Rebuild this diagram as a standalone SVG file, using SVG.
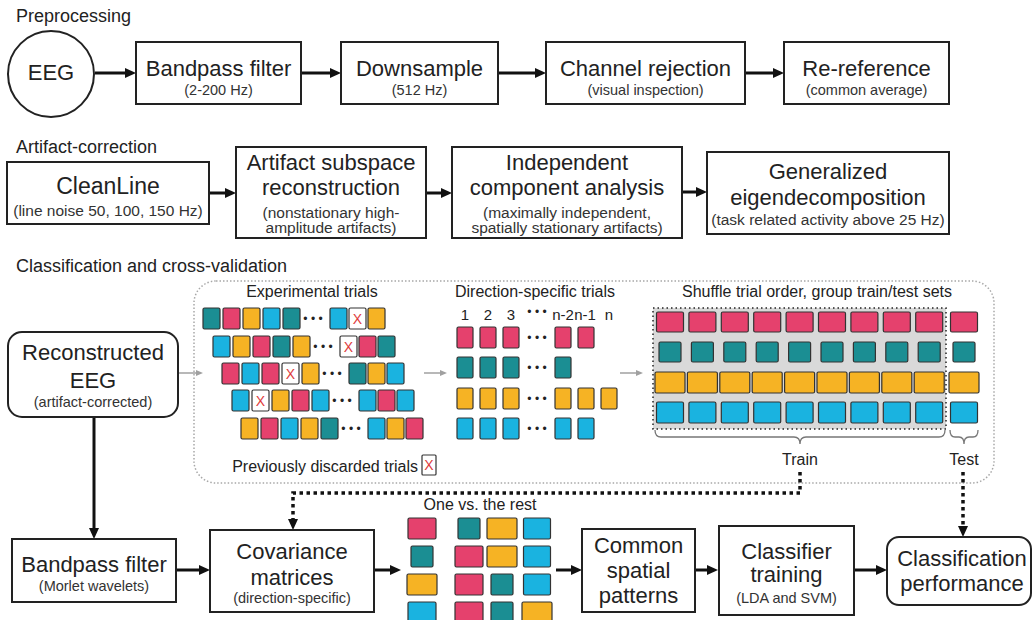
<svg xmlns="http://www.w3.org/2000/svg" width="1033" height="620" viewBox="0 0 1033 620">
<defs>
<style>
.box{fill:#fff;stroke:#222;stroke-width:2}
.t{font-family:"Liberation Sans",Arial,Helvetica,sans-serif;fill:#222;text-anchor:middle}
.title{font-size:22px}
.sub{font-size:14.5px;fill:#333}
.sub2{font-size:15.5px;fill:#333}
.lbl{font-size:16px}
.num{font-size:15px}
.hdr{font-size:18px;text-anchor:start}
.dots{font-size:12px}
.sq{stroke:#333;stroke-width:1.2}
.pk{fill:#e5416d}.tl{fill:#1b8e93}.or{fill:#f6b324}.cy{fill:#1ab3e0}.xs{fill:#fff}
.xt{font-family:"Liberation Sans",Arial,sans-serif;fill:#e03c3c;font-size:14px;text-anchor:middle}
.conn{stroke:#111;stroke-width:3;fill:none}
.dotc{stroke:#111;stroke-width:3.5;stroke-dasharray:3.5 3.5;fill:none}
.gray{stroke:#a0a0a0;stroke-width:1.5;fill:none}
.brace{stroke:#777;stroke-width:1.3;fill:none}
</style>
<marker id="ah" markerUnits="userSpaceOnUse" markerWidth="12" markerHeight="10" refX="5" refY="5" orient="auto"><path d="M0,0 L11,5 L0,10 z" fill="#111"/></marker>
<marker id="ahg" markerUnits="userSpaceOnUse" markerWidth="8" markerHeight="6" refX="2" refY="3" orient="auto"><path d="M0,0 L7,3 L0,6 z" fill="#a0a0a0"/></marker>
</defs>
<rect width="1033" height="620" fill="#fff"/>

<!-- section headers -->
<text class="t hdr" x="16" y="22">Preprocessing</text>
<text class="t hdr" x="16" y="153">Artifact-correction</text>
<text class="t hdr" x="16" y="272">Classification and cross-validation</text>

<!-- dotted panel -->
<rect x="194" y="281" width="800" height="202" rx="22" fill="none" stroke="#a8a8a8" stroke-width="1.5" stroke-dasharray="1.5 2"/>

<!-- connectors -->
<g id="connectors">
<path class="conn" d="M95,73 H130" marker-end="url(#ah)"/>
<path class="conn" d="M301,73 H335" marker-end="url(#ah)"/>
<path class="conn" d="M498,73 H540" marker-end="url(#ah)"/>
<path class="conn" d="M745,73 H778" marker-end="url(#ah)"/>
<path class="conn" d="M209,193 H230" marker-end="url(#ah)"/>
<path class="conn" d="M426,193 H446" marker-end="url(#ah)"/>
<path class="conn" d="M682,192 H701" marker-end="url(#ah)"/>
<path class="conn" d="M94,417 V533" marker-end="url(#ah)"/>
<path class="conn" d="M176,570 H204" marker-end="url(#ah)"/>
<path class="conn" d="M374,570 H395" marker-end="url(#ah)"/>
<path class="conn" d="M556,570 H576" marker-end="url(#ah)"/>
<path class="conn" d="M695,570 H712" marker-end="url(#ah)"/>
<path class="conn" d="M854,570 H881" marker-end="url(#ah)"/>
<path class="dotc" d="M800,472 V493 H293 V524" marker-end="url(#ah)"/>
<path class="dotc" d="M963,472 V531" marker-end="url(#ah)"/>
<path class="gray" d="M178,373 H198" marker-end="url(#ahg)"/>
<path class="gray" d="M424,373 H442" marker-end="url(#ahg)"/>
<path class="gray" d="M620,373 H638" marker-end="url(#ahg)"/>
</g>

<!-- Preprocessing nodes -->
<g id="eeg">
<circle cx="51" cy="74" r="43" fill="#fff" stroke="#222" stroke-width="2"/>
<text class="t title" x="51" y="80">EEG</text>
</g>
<g id="bandpass">
<rect class="box" x="136" y="42" width="165" height="62"/>
<text class="t title" x="218.5" y="76">Bandpass filter</text>
<text class="t sub" x="218.5" y="95">(2-200 Hz)</text>
</g>
<g id="downsample">
<rect class="box" x="341" y="42" width="157" height="62"/>
<text class="t title" x="419.5" y="76">Downsample</text>
<text class="t sub" x="419.5" y="95">(512 Hz)</text>
</g>
<g id="channel">
<rect class="box" x="546" y="42" width="199" height="62"/>
<text class="t title" x="645.5" y="76">Channel rejection</text>
<text class="t sub" x="645.5" y="95">(visual inspection)</text>
</g>
<g id="reref">
<rect class="box" x="784" y="42" width="165" height="62"/>
<text class="t title" x="866.5" y="76">Re-reference</text>
<text class="t sub" x="866.5" y="95">(common average)</text>
</g>

<!-- Artifact-correction nodes -->
<g id="cleanline">
<rect class="box" x="7" y="162" width="202" height="62"/>
<text class="t title" x="108" y="194" style="font-size:23px">CleanLine</text>
<text class="t sub2" x="108" y="216">(line noise 50, 100, 150 Hz)</text>
</g>
<g id="asr">
<rect class="box" x="236" y="147" width="190" height="91"/>
<text class="t title" x="331" y="170">Artifact subspace</text>
<text class="t title" x="331" y="195">reconstruction</text>
<text class="t sub2" x="331" y="218">(nonstationary high-</text>
<text class="t sub2" x="331" y="233">amplitude artifacts)</text>
</g>
<g id="ica">
<rect class="box" x="452" y="147" width="230" height="91"/>
<text class="t title" x="567" y="170">Independent</text>
<text class="t title" x="567" y="195">component analysis</text>
<text class="t sub2" x="567" y="218">(maximally independent,</text>
<text class="t sub2" x="567" y="233">spatially stationary artifacts)</text>
</g>
<g id="ged">
<rect class="box" x="707" y="152" width="242" height="82"/>
<text class="t title" x="828" y="179">Generalized</text>
<text class="t title" x="828" y="205">eigendecomposition</text>
<text class="t sub2" x="828" y="225">(task related activity above 25 Hz)</text>
</g>

<!-- Reconstructed EEG -->
<g id="reconstructed">
<rect class="box" x="8" y="332" width="170" height="85" rx="14"/>
<text class="t title" x="93" y="360">Reconstructed</text>
<text class="t title" x="93" y="388">EEG</text>
<text class="t sub" x="93" y="407">(artifact-corrected)</text>
</g>

<!-- Experimental trials -->
<g id="experimental-trials">
<text class="t lbl" x="312" y="297">Experimental trials</text>
<rect class="sq tl" x="203" y="308" width="17" height="21" rx="1.5"/>
<rect class="sq pk" x="223" y="308" width="17" height="21" rx="1.5"/>
<rect class="sq or" x="243" y="308" width="17" height="21" rx="1.5"/>
<rect class="sq cy" x="263" y="308" width="17" height="21" rx="1.5"/>
<rect class="sq tl" x="283" y="308" width="17" height="21" rx="1.5"/>
<text class="t dots" x="313" y="323">• • •</text>
<rect class="sq cy" x="330" y="308" width="17" height="21" rx="1.5"/>
<rect class="sq xs" x="349" y="308" width="17" height="21" rx="1.5"/>
<text class="xt" x="357.5" y="324">X</text>
<rect class="sq or" x="368" y="308" width="17" height="21" rx="1.5"/>

<rect class="sq cy" x="213" y="336" width="17" height="21" rx="1.5"/>
<rect class="sq or" x="233" y="336" width="17" height="21" rx="1.5"/>
<rect class="sq pk" x="253" y="336" width="17" height="21" rx="1.5"/>
<rect class="sq tl" x="273" y="336" width="17" height="21" rx="1.5"/>
<rect class="sq or" x="293" y="336" width="17" height="21" rx="1.5"/>
<text class="t dots" x="323" y="351">• • •</text>
<rect class="sq xs" x="340" y="336" width="17" height="21" rx="1.5"/>
<text class="xt" x="348.5" y="352">X</text>
<rect class="sq pk" x="359" y="336" width="17" height="21" rx="1.5"/>
<rect class="sq tl" x="378" y="336" width="17" height="21" rx="1.5"/>

<rect class="sq pk" x="222" y="363" width="17" height="21" rx="1.5"/>
<rect class="sq cy" x="242" y="363" width="17" height="21" rx="1.5"/>
<rect class="sq pk" x="262" y="363" width="17" height="21" rx="1.5"/>
<rect class="sq xs" x="282" y="363" width="17" height="21" rx="1.5"/>
<text class="xt" x="290.5" y="379">X</text>
<rect class="sq or" x="302" y="363" width="17" height="21" rx="1.5"/>
<text class="t dots" x="332" y="378">• • •</text>
<rect class="sq tl" x="349" y="363" width="17" height="21" rx="1.5"/>
<rect class="sq or" x="368" y="363" width="17" height="21" rx="1.5"/>
<rect class="sq cy" x="387" y="363" width="17" height="21" rx="1.5"/>

<rect class="sq cy" x="232" y="390" width="17" height="21" rx="1.5"/>
<rect class="sq xs" x="252" y="390" width="17" height="21" rx="1.5"/>
<text class="xt" x="260.5" y="406">X</text>
<rect class="sq or" x="272" y="390" width="17" height="21" rx="1.5"/>
<rect class="sq pk" x="292" y="390" width="17" height="21" rx="1.5"/>
<rect class="sq cy" x="312" y="390" width="17" height="21" rx="1.5"/>
<text class="t dots" x="342" y="405">• • •</text>
<rect class="sq cy" x="359" y="390" width="17" height="21" rx="1.5"/>
<rect class="sq pk" x="378" y="390" width="17" height="21" rx="1.5"/>
<rect class="sq cy" x="397" y="390" width="17" height="21" rx="1.5"/>

<rect class="sq or" x="241" y="418" width="17" height="21" rx="1.5"/>
<rect class="sq pk" x="261" y="418" width="17" height="21" rx="1.5"/>
<rect class="sq cy" x="281" y="418" width="17" height="21" rx="1.5"/>
<rect class="sq or" x="301" y="418" width="17" height="21" rx="1.5"/>
<rect class="sq tl" x="321" y="418" width="17" height="21" rx="1.5"/>
<text class="t dots" x="351" y="433">• • •</text>
<rect class="sq cy" x="368" y="418" width="17" height="21" rx="1.5"/>
<rect class="sq or" x="387" y="418" width="17" height="21" rx="1.5"/>
<rect class="sq pk" x="406" y="418" width="17" height="21" rx="1.5"/>

<text class="t lbl" x="418" y="472" style="text-anchor:end">Previously discarded trials</text>
<rect class="sq xs" x="422" y="455" width="14" height="20" rx="1"/>
<text class="xt" x="429" y="470">X</text>
</g>

<!-- Direction-specific trials -->
<g id="direction-trials">
<text class="t lbl" x="535" y="297">Direction-specific trials</text>
<text class="t num" x="465" y="320">1</text>
<text class="t num" x="488" y="320">2</text>
<text class="t num" x="511" y="320">3</text>
<text class="t dots" x="537" y="316">• • •</text>
<text class="t num" x="563" y="320">n-2</text>
<text class="t num" x="585" y="320">n-1</text>
<text class="t num" x="609" y="320">n</text>

<rect class="sq pk" x="457" y="327" width="16" height="21" rx="1.5"/>
<rect class="sq pk" x="480" y="327" width="16" height="21" rx="1.5"/>
<rect class="sq pk" x="503" y="327" width="16" height="21" rx="1.5"/>
<text class="t dots" x="537" y="342">• • •</text>
<rect class="sq pk" x="555" y="327" width="16" height="21" rx="1.5"/>
<rect class="sq pk" x="578" y="327" width="16" height="21" rx="1.5"/>

<rect class="sq tl" x="457" y="357" width="16" height="21" rx="1.5"/>
<rect class="sq tl" x="480" y="357" width="16" height="21" rx="1.5"/>
<rect class="sq tl" x="503" y="357" width="16" height="21" rx="1.5"/>
<text class="t dots" x="537" y="372">• • •</text>
<rect class="sq tl" x="555" y="357" width="16" height="21" rx="1.5"/>

<rect class="sq or" x="457" y="388" width="16" height="21" rx="1.5"/>
<rect class="sq or" x="480" y="388" width="16" height="21" rx="1.5"/>
<rect class="sq or" x="503" y="388" width="16" height="21" rx="1.5"/>
<text class="t dots" x="537" y="403">• • •</text>
<rect class="sq or" x="555" y="388" width="16" height="21" rx="1.5"/>
<rect class="sq or" x="578" y="388" width="16" height="21" rx="1.5"/>
<rect class="sq or" x="601" y="388" width="16" height="21" rx="1.5"/>

<rect class="sq cy" x="457" y="418" width="16" height="21" rx="1.5"/>
<rect class="sq cy" x="480" y="418" width="16" height="21" rx="1.5"/>
<rect class="sq cy" x="503" y="418" width="16" height="21" rx="1.5"/>
<text class="t dots" x="537" y="433">• • •</text>
<rect class="sq cy" x="555" y="418" width="16" height="21" rx="1.5"/>
<rect class="sq cy" x="578" y="418" width="16" height="21" rx="1.5"/>
</g>

<!-- Shuffle / train-test -->
<g id="shuffle">
<text class="t lbl" x="817" y="297">Shuffle trial order, group train/test sets</text>
<rect x="653" y="308" width="293" height="121" fill="#d9d9d9" stroke="#222" stroke-width="1.5" stroke-dasharray="1.5 3"/>
<rect class="sq pk" x="656.5" y="312" width="27" height="20" rx="1.5"/>
<rect class="sq pk" x="688.9" y="312" width="27" height="20" rx="1.5"/>
<rect class="sq pk" x="721.3" y="312" width="27" height="20" rx="1.5"/>
<rect class="sq pk" x="753.7" y="312" width="27" height="20" rx="1.5"/>
<rect class="sq pk" x="786.1" y="312" width="27" height="20" rx="1.5"/>
<rect class="sq pk" x="818.5" y="312" width="27" height="20" rx="1.5"/>
<rect class="sq pk" x="850.9" y="312" width="27" height="20" rx="1.5"/>
<rect class="sq pk" x="883.3" y="312" width="27" height="20" rx="1.5"/>
<rect class="sq pk" x="915.7" y="312" width="27" height="20" rx="1.5"/>
<rect class="sq pk" x="950.5" y="312" width="27" height="20" rx="1.5"/>

<rect class="sq tl" x="659" y="342" width="22" height="20" rx="1.5"/>
<rect class="sq tl" x="691.4" y="342" width="22" height="20" rx="1.5"/>
<rect class="sq tl" x="723.8" y="342" width="22" height="20" rx="1.5"/>
<rect class="sq tl" x="756.2" y="342" width="22" height="20" rx="1.5"/>
<rect class="sq tl" x="788.6" y="342" width="22" height="20" rx="1.5"/>
<rect class="sq tl" x="821" y="342" width="22" height="20" rx="1.5"/>
<rect class="sq tl" x="853.4" y="342" width="22" height="20" rx="1.5"/>
<rect class="sq tl" x="885.8" y="342" width="22" height="20" rx="1.5"/>
<rect class="sq tl" x="918.2" y="342" width="22" height="20" rx="1.5"/>
<rect class="sq tl" x="953" y="342" width="22" height="20" rx="1.5"/>

<rect class="sq or" x="655" y="372" width="30" height="21" rx="1.5"/>
<rect class="sq or" x="687.4" y="372" width="30" height="21" rx="1.5"/>
<rect class="sq or" x="719.8" y="372" width="30" height="21" rx="1.5"/>
<rect class="sq or" x="752.2" y="372" width="30" height="21" rx="1.5"/>
<rect class="sq or" x="784.6" y="372" width="30" height="21" rx="1.5"/>
<rect class="sq or" x="817" y="372" width="30" height="21" rx="1.5"/>
<rect class="sq or" x="849.4" y="372" width="30" height="21" rx="1.5"/>
<rect class="sq or" x="881.8" y="372" width="30" height="21" rx="1.5"/>
<rect class="sq or" x="914.2" y="372" width="30" height="21" rx="1.5"/>
<rect class="sq or" x="949" y="372" width="30" height="21" rx="1.5"/>

<rect class="sq cy" x="656.5" y="402" width="27" height="21" rx="1.5"/>
<rect class="sq cy" x="688.9" y="402" width="27" height="21" rx="1.5"/>
<rect class="sq cy" x="721.3" y="402" width="27" height="21" rx="1.5"/>
<rect class="sq cy" x="753.7" y="402" width="27" height="21" rx="1.5"/>
<rect class="sq cy" x="786.1" y="402" width="27" height="21" rx="1.5"/>
<rect class="sq cy" x="818.5" y="402" width="27" height="21" rx="1.5"/>
<rect class="sq cy" x="850.9" y="402" width="27" height="21" rx="1.5"/>
<rect class="sq cy" x="883.3" y="402" width="27" height="21" rx="1.5"/>
<rect class="sq cy" x="915.7" y="402" width="27" height="21" rx="1.5"/>
<rect class="sq cy" x="950.5" y="402" width="27" height="21" rx="1.5"/>

<path class="brace" d="M655,430 Q655,437 661,437 L794,437 Q800,437 800,444 Q800,437 806,437 L939,437 Q945,437 945,430"/>
<path class="brace" d="M950,430 Q950,437 955,437 L959,437 Q964,437 964,444 Q964,437 969,437 L973,437 Q978,437 978,430"/>
<text class="t lbl" x="800" y="465">Train</text>
<text class="t lbl" x="964" y="465">Test</text>
</g>

<!-- Bottom row -->
<g id="bandpass-morlet">
<rect class="box" x="12" y="539" width="164" height="63"/>
<text class="t title" x="94" y="572">Bandpass filter</text>
<text class="t sub" x="94" y="591">(Morlet wavelets)</text>
</g>
<g id="covariance">
<rect class="box" x="210" y="530" width="164" height="82"/>
<text class="t title" x="292" y="559">Covariance</text>
<text class="t title" x="292" y="585">matrices</text>
<text class="t sub" x="292" y="603">(direction-specific)</text>
</g>
<g id="one-vs-rest">
<text class="t lbl" x="480" y="510">One vs. the rest</text>
<rect class="sq pk" x="408" y="518" width="28" height="21" rx="1.5"/>
<rect class="sq tl" x="411" y="546" width="22" height="21" rx="1.5"/>
<rect class="sq or" x="407" y="574" width="30" height="21" rx="1.5"/>
<rect class="sq cy" x="408" y="602" width="28" height="21" rx="1.5"/>

<rect class="sq tl" x="458" y="518" width="22" height="21" rx="1.5"/>
<rect class="sq or" x="487" y="518" width="30" height="21" rx="1.5"/>
<rect class="sq cy" x="523.5" y="518" width="27" height="21" rx="1.5"/>
<rect class="sq pk" x="455" y="546" width="28" height="21" rx="1.5"/>
<rect class="sq or" x="487" y="546" width="30" height="21" rx="1.5"/>
<rect class="sq cy" x="523.5" y="546" width="27" height="21" rx="1.5"/>
<rect class="sq pk" x="455" y="574" width="28" height="21" rx="1.5"/>
<rect class="sq tl" x="491" y="574" width="22" height="21" rx="1.5"/>
<rect class="sq cy" x="523.5" y="574" width="27" height="21" rx="1.5"/>
<rect class="sq pk" x="455" y="602" width="28" height="21" rx="1.5"/>
<rect class="sq tl" x="491" y="602" width="22" height="21" rx="1.5"/>
<rect class="sq or" x="522" y="602" width="30" height="21" rx="1.5"/>
</g>
<g id="csp">
<rect class="box" x="582" y="529" width="113" height="83"/>
<text class="t title" x="638.5" y="553">Common</text>
<text class="t title" x="638.5" y="578">spatial</text>
<text class="t title" x="638.5" y="603">patterns</text>
</g>
<g id="classifier">
<rect class="box" x="719" y="526" width="135" height="89"/>
<text class="t title" x="786.5" y="559">Classifier</text>
<text class="t title" x="786.5" y="582">training</text>
<text class="t sub" x="786.5" y="603">(LDA and SVM)</text>
</g>
<g id="performance">
<rect class="box" x="887" y="537" width="144" height="68" rx="12"/>
<text class="t title" x="962" y="566">Classification</text>
<text class="t title" x="962" y="591">performance</text>
</g>
</svg>
